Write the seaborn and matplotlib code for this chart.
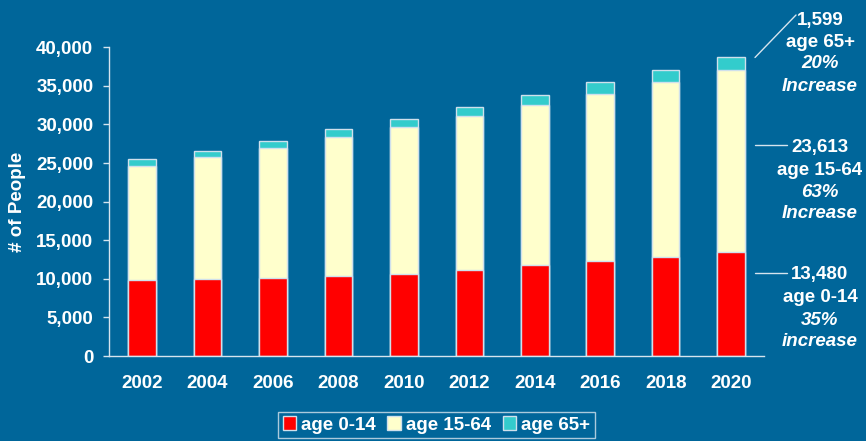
"""Stacked population-by-age-group bar chart, 2002-2020."""

import matplotlib

matplotlib.use("Agg")
import matplotlib.pyplot as plt
import numpy as np
import pandas as pd
import seaborn as sns
from matplotlib.lines import Line2D
from matplotlib.patches import Patch
from matplotlib.ticker import FixedLocator, StrMethodFormatter


YEARS = ["2002", "2004", "2006", "2008", "2010", "2012", "2014", "2016", "2018", "2020"]
AGE_0_14 = [9860, 9990, 10160, 10380, 10640, 11200, 11730, 12250, 12860, 13480]
AGE_15_64 = [14800, 15850, 16740, 17980, 18980, 19850, 20800, 21750, 22670, 23613]
AGE_65_PLUS = [820, 790, 980, 1000, 1130, 1250, 1350, 1480, 1510, 1599]
GROUP_LABELS = ["age 0-14", "age 15-64", "age 65+"]
GROWTH = ["35%", "63%", "20%"]
GROWTH_WORD = ["increase", "Increase", "Increase"]

BACKGROUND = "#00669a"
COLORS = ["#ff0000", "#ffffcc", "#33cccc"]
EDGE = "#cfe0ec"
AXIS_COLOR = "#d6e4ee"
W, H = 866, 441


def fig_xy(px, py):
    """Convert pixel position (top-left origin) to figure fraction."""
    return px / W, 1 - py / H


sns.set_theme(style="white")
plt.rcParams["font.family"] = ["Liberation Sans", "DejaVu Sans"]
plt.rcParams["font.weight"] = "bold"

frame = pd.DataFrame(
    {"year": YEARS, "age 0-14": AGE_0_14, "age 15-64": AGE_15_64, "age 65+": AGE_65_PLUS}
)
frame["upto_64"] = frame["age 0-14"] + frame["age 15-64"]
frame["total"] = frame["upto_64"] + frame["age 65+"]

figure, axis = plt.subplots(figsize=(W / 100, H / 100), dpi=100)
figure.patch.set_facecolor(BACKGROUND)
axis.set_facecolor(BACKGROUND)
figure.subplots_adjust(left=0.1259, right=0.8822, bottom=0.1927, top=0.8927)

for column, color in zip(["total", "upto_64", "age 0-14"], COLORS[::-1]):
    sns.barplot(
        data=frame,
        x="year",
        y=column,
        color=color,
        saturation=1,
        width=0.42,
        edgecolor=EDGE,
        linewidth=1,
        errorbar=None,
        ax=axis,
    )

axis.set_xlim(-0.5, len(YEARS) - 0.5)
axis.set_ylim(0, 40000)
axis.set_yticks(np.arange(0, 40001, 5000))
axis.yaxis.set_major_formatter(StrMethodFormatter("{x:,.0f}"))
axis.set_xlabel("")
axis.set_ylabel("# of People", color="white", fontsize=13.5, fontweight="bold")
axis.yaxis.set_label_coords(-0.127, 0.5)

axis.xaxis.set_minor_locator(FixedLocator(np.arange(-0.5, len(YEARS), 1)))
axis.tick_params(axis="x", which="major", length=0, pad=14, labelsize=13.5, labelcolor="white")
axis.tick_params(axis="x", which="minor", length=4.3, width=1, color=AXIS_COLOR, direction="out")
axis.tick_params(axis="y", length=4.3, width=1, color=AXIS_COLOR, pad=7, labelsize=13.5,
                 labelcolor="white", left=True)
for label in axis.get_xticklabels() + axis.get_yticklabels():
    label.set_fontweight("bold")

for side in ["top", "right"]:
    axis.spines[side].set_visible(False)
for side in ["left", "bottom"]:
    axis.spines[side].set_color(AXIS_COLOR)
    axis.spines[side].set_linewidth(1)

# right-hand callouts for the 2020 values
last_values = [AGE_0_14[-1], AGE_15_64[-1], AGE_65_PLUS[-1]]
callout_lines = [
    [(755, 272.5), (787, 272.5)],
    [(755, 144.5), (787, 144.5)],
    [(755, 57.5), (796, 15)],
]
callout_baselines = [
    [279, 301.5, 325, 346],
    [152, 175, 197, 218.5],
    [25, 47, 68.5, 91],
]
for idx in range(3):
    (x0, y0), (x1, y1) = callout_lines[idx]
    a, b = fig_xy(x0, y0)
    c, d = fig_xy(x1, y1)
    figure.add_artist(Line2D([a, c], [b, d], transform=figure.transFigure, color=AXIS_COLOR, lw=1))
    lines = [f"{last_values[idx]:,}", GROUP_LABELS[idx], GROWTH[idx], GROWTH_WORD[idx]]
    styles = ["normal", "normal", "italic", "italic"]
    for text, style, base in zip(lines, styles, callout_baselines[idx]):
        tx, ty = fig_xy(820, base)
        figure.text(tx, ty, text, ha="center", va="baseline", color="white",
                    fontsize=13.5, fontweight="bold", fontstyle=style)

handles = [Patch(facecolor=color, edgecolor=EDGE, linewidth=1) for color in COLORS]
legend = figure.legend(
    handles,
    GROUP_LABELS,
    loc="center",
    bbox_to_anchor=fig_xy(436.5, 425),
    ncol=3,
    frameon=True,
    fancybox=False,
    facecolor="none",
    edgecolor=AXIS_COLOR,
    handlelength=0.7,
    handleheight=0.7,
    handletextpad=0.3,
    columnspacing=0.6,
    borderpad=0.25,
    borderaxespad=0,
    prop={"size": 13.5, "weight": "bold"},
    labelcolor="white",
)
legend.get_frame().set_linewidth(1)

figure.savefig("out.png", dpi=100, facecolor=BACKGROUND)
plt.close(figure)
